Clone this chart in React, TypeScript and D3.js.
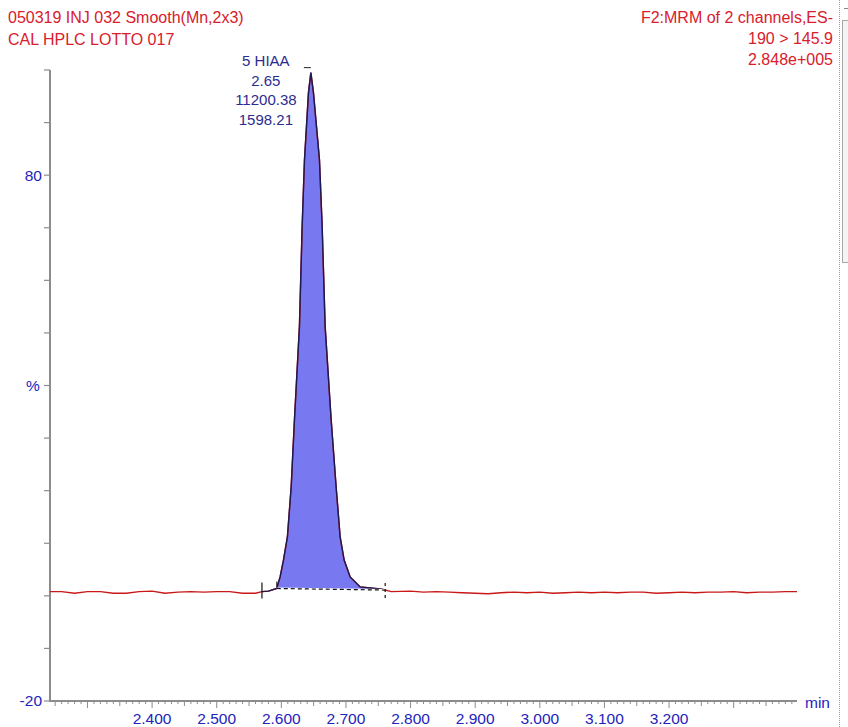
import React from "react";
import * as d3 from "d3";

// trace: retention time (min) and intensity (%)
const traceTimes = [
  2.242, 2.26, 2.28, 2.3, 2.32, 2.34, 2.36, 2.38, 2.4, 2.42, 2.44, 2.46, 2.48,
  2.5, 2.52, 2.54, 2.56, 2.57, 2.58, 2.593, 2.5935, 2.5981, 2.6033, 2.6094,
  2.6152, 2.6203, 2.628, 2.6322, 2.6358, 2.642, 2.6457, 2.6497, 2.659, 2.6632,
  2.6678, 2.6771, 2.6848, 2.691, 2.6972, 2.7065, 2.722, 2.7375, 2.7529, 2.7607,
  2.77, 2.8, 2.82, 2.84, 2.86, 2.88, 2.9, 2.92, 2.94, 2.96, 2.98, 3.0, 3.02,
  3.04, 3.06, 3.08, 3.1, 3.12, 3.14, 3.16, 3.18, 3.2, 3.22, 3.24, 3.26, 3.28,
  3.3, 3.32, 3.34, 3.36, 3.38, 3.398,
];
const traceValues = [
  0.8, 0.8, 0.5, 0.8, 0.8, 0.5, 0.5, 0.8, 0.9, 0.5, 0.7, 0.8, 0.7, 0.8, 0.8,
  0.5, 0.5, 0.8, 0.9, 1.4, 1.7, 3.6, 6.8, 11.2, 20.7, 33.5, 51.2, 70.2, 82.9,
  95.7, 99.5, 95.7, 82.9, 70.2, 51.2, 33.5, 20.7, 11.2, 6.8, 3.6, 1.7, 1.5,
  1.3, 1.1, 0.8, 0.9, 0.7, 0.8, 0.7, 0.6, 0.5, 0.4, 0.6, 0.7, 0.6, 0.7, 0.5,
  0.6, 0.7, 0.6, 0.7, 0.6, 0.7, 0.7, 0.5, 0.6, 0.7, 0.6, 0.7, 0.7, 0.8, 0.6,
  0.7, 0.7, 0.8, 0.8,
];

const peakName = "5 HIAA";
const peakRt = "2.65";
const peakArea = "11200.38";
const peakHeight = "1598.21";
const markStart = 2.57; // "+" marker
const peakStart = 2.593;
const peakEnd = 2.7607;
const peakApex = 2.6457;

const xTickLabels = [2.4, 2.5, 2.6, 2.7, 2.8, 2.9, 3.0, 3.1, 3.2];
const yTickLabels = [80, -20];

const headerLeft = ["050319 INJ 032 Smooth(Mn,2x3)", "CAL HPLC LOTTO 017"];
const headerRight = ["F2:MRM of 2 channels,ES-", "190 > 145.9", "2.848e+005"];

const width = 848;
const height = 727;
const font = "'Liberation Sans', Arial, sans-serif";
const red = "#d8202c";
const blue = "#2323bc";
const navy = "#2c2c90";
const axisGray = "#8c8c8c";

export default function App() {
  const x = d3.scaleLinear().domain([2.242, 3.398]).range([50, 797]);
  const y = d3.scaleLinear().domain([-20, 100]).range([701, 70]);

  const pts = traceTimes.map((t, i) => ({ t, v: traceValues[i] }));
  const line = d3.line<{ t: number; v: number }>().x(d => x(d.t)).y(d => y(d.v));

  const peakPts = pts.filter(d => d.t >= peakStart && d.t <= peakEnd);
  const darkPts = pts.filter(d => d.t >= markStart && d.t <= peakEnd);
  const v0 = peakPts[0].v;
  const v1 = peakPts[peakPts.length - 1].v;
  const base = (t: number) => v0 + ((t - peakStart) / (peakEnd - peakStart)) * (v1 - v0);
  const area = d3.area<{ t: number; v: number }>()
    .x(d => x(d.t))
    .y0(d => y(base(d.t)))
    .y1(d => y(d.v));

  const xMinor = d3.range(225, 340).map(i => i / 100);
  const yMinor = d3.range(-20, 101, 10);
  const apex = pts.find(d => d.t === peakApex)!;
  const labelX = x(peakApex) - 45;

  return (
    <svg width={width} height={height} style={{ position: "absolute", left: 0, top: 0, background: "#fff" }}>
      {/* headers */}
      {headerLeft.map((s, i) => (
        <text key={s} x={8} y={23 + i * 22} fill={red} fontFamily={font} fontSize={16}>{s}</text>
      ))}
      {headerRight.map((s, i) => (
        <text key={s} x={833} y={23 + i * 21} fill={red} fontFamily={font} fontSize={16} textAnchor="end">{s}</text>
      ))}

      {/* y axis */}
      <line x1={50} x2={50} y1={y(100)} y2={y(-20)} stroke={axisGray} strokeWidth={2} />
      {yMinor.map(v => (
        <line key={v} x1={44} x2={50} y1={y(v)} y2={y(v)} stroke={axisGray} strokeWidth={1.2} />
      ))}
      {yTickLabels.map(v => (
        <text key={v} x={42} y={y(v)} dy="0.35em" textAnchor="end" fill={blue} fontFamily={font} fontSize={15.5}>{v}</text>
      ))}
      <text x={33} y={y(40)} dy="0.35em" textAnchor="middle" fill={blue} fontFamily={font} fontSize={15.5}>%</text>

      {/* x axis */}
      <line x1={49} x2={797} y1={y(-20)} y2={y(-20)} stroke={axisGray} strokeWidth={2} />
      {xMinor.map(t => {
        const k = Math.round(t * 100);
        const len = k % 10 === 0 ? 7 : k % 5 === 0 ? 5 : 3;
        return <line key={k} x1={x(t)} x2={x(t)} y1={y(-20)} y2={y(-20) + len} stroke={axisGray} strokeWidth={1} />;
      })}
      {xTickLabels.map(t => (
        <text key={t} x={x(t)} y={724} textAnchor="middle" fill={blue} fontFamily={font} fontSize={15.5}>{t.toFixed(3)}</text>
      ))}
      <text x={805} y={708} fill={blue} fontFamily={font} fontSize={15.5}>min</text>

      {/* peak fill */}
      <path d={area(peakPts) ?? ""} fill="#7878f0" stroke="none" />
      {/* trace */}
      <path d={line(pts) ?? ""} fill="none" stroke="#c81818" strokeWidth={1.4} />
      <path d={line(darkPts) ?? ""} fill="none" stroke="#1a1a50" strokeWidth={1.4} />
      {/* integration baseline */}
      <line x1={x(peakStart)} x2={x(peakEnd)} y1={y(v0)} y2={y(v1)} stroke="#ffffff" strokeWidth={2} />
      <line x1={x(peakStart)} x2={x(peakEnd)} y1={y(v0)} y2={y(v1)} stroke="#111" strokeWidth={1.2} strokeDasharray="4,3" />
      <line x1={x(markStart)} x2={x(markStart)} y1={y(v0) - 6} y2={y(v0) + 10} stroke="#111" strokeWidth={1.2} />
      <line x1={x(peakStart)} x2={x(peakStart)} y1={y(v0) - 7} y2={y(v0) - 2} stroke="#111" strokeWidth={1} />
      <line x1={x(peakEnd)} x2={x(peakEnd)} y1={y(v1) - 7} y2={y(v1) + 8} stroke="#111" strokeWidth={1.2} strokeDasharray="3,3" />
      {/* apex marker */}
      <line x1={x(peakApex) - 7} x2={x(peakApex)} y1={y(apex.v) - 5} y2={y(apex.v) - 5} stroke="#222" strokeWidth={1} />

      {/* peak annotation */}
      {[peakName, peakRt, peakArea, peakHeight].map((s, i) => (
        <text key={s} x={labelX} y={66 + i * 19.5} textAnchor="middle" fill={navy} fontFamily={font} fontSize={15}>{s}</text>
      ))}

      {/* window edge */}
      <line x1={839.5} x2={839.5} y1={0} y2={height} stroke="#9a9a9a" strokeWidth={1} strokeDasharray="1,1" />
      <rect x={842.5} y={20.5} width={8} height={242} fill="#f4f4f4" stroke="#a8a8a8" />
      <line x1={844} x2={848} y1={8.5} y2={8.5} stroke="#888" />
    </svg>
  );
}
